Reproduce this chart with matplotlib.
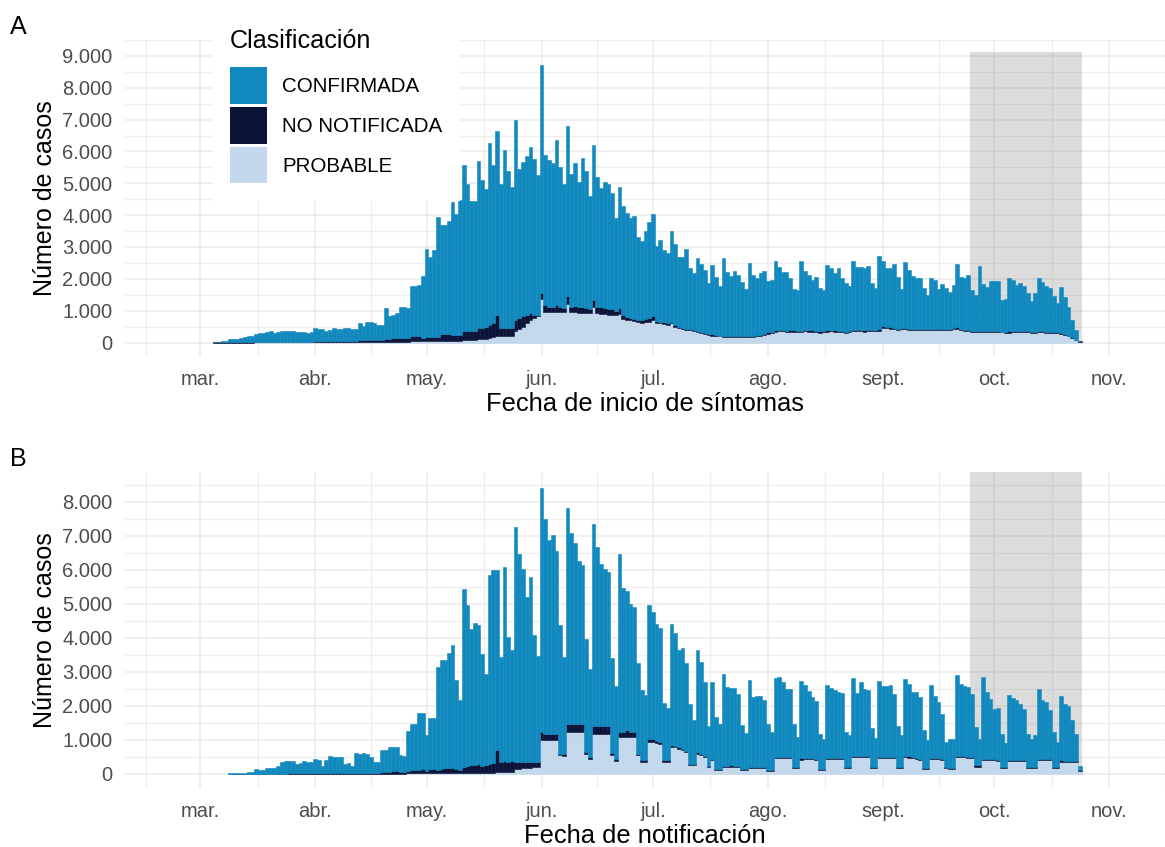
import numpy as np
import pandas as pd
import matplotlib
matplotlib.use("Agg")
import matplotlib.pyplot as plt
from matplotlib.patches import Patch

plt.rcParams['font.family'] = ['Liberation Sans', 'DejaVu Sans']

# colores de la clasificacion
C_CONF = '#1189BE'
C_NONOT = '#0B1438'
C_PROB = '#C3D8EC'
classes = ['CONFIRMADA', 'NO NOTIFICADA', 'PROBABLE']

# ultimos 30 dias (sombreado)
shade = ['2020-09-24 12:00', '2020-10-24 12:00']

months = ['2020-02-01', '2020-03-01', '2020-04-01', '2020-05-01', '2020-06-01',
          '2020-07-01', '2020-08-01', '2020-09-01', '2020-10-01', '2020-11-01',
          '2020-12-01']
month_labels = ['mar.', 'abr.', 'may.', 'jun.', 'jul.', 'ago.', 'sept.', 'oct.', 'nov.']

# ---- Panel A: fecha de inicio de sintomas (desde 5 mar.) ----
a_start = '2020-03-05'
a_total = [
    30, 30, 40, 50, 100, 100, 120,
    150, 180, 200, 220, 280, 300, 300,
    320, 360, 310, 320, 360, 360, 360,
    350, 330, 330, 320, 310, 320, 460,
    420, 410, 370, 380, 460, 440, 440,
    470, 460, 410, 420, 610, 520, 660,
    640, 600, 560, 550, 1070, 820, 850,
    920, 1120, 1120, 1070, 1790, 1790, 1800,
    2080, 2930, 2700, 2900, 3930, 3680, 3680,
    3830, 4410, 4050, 4460, 5590, 4980, 4430,
    4430, 5710, 5100, 4830, 6280, 5560, 6650,
    4980, 6040, 5400, 4880, 6980, 5440, 5680,
    5860, 6130, 5760, 5260, 8700, 5900, 5740,
    5630, 6370, 5500, 4970, 6800, 5300, 5630,
    5050, 5780, 5380, 4590, 6190, 5200, 4840,
    5050, 4980, 4700, 3900, 4880, 4300, 4080,
    3900, 3980, 3320, 3200, 3500, 3790, 4040,
    3030, 3230, 2900, 2800, 3500, 3080, 2680,
    2680, 2950, 2330, 2180, 2660, 2460, 2280,
    1870, 2430, 2070, 1790, 2660, 2200, 2100,
    2260, 2120, 1890, 1670, 2500, 2120, 2020,
    2180, 2260, 1940, 1950, 2560, 2360, 2230,
    2230, 2020, 1670, 1650, 2560, 2250, 2120,
    1950, 2070, 1720, 1640, 2450, 2330, 2180,
    2330, 2020, 1870, 1770, 2560, 2380, 2380,
    2330, 2400, 1870, 1720, 2710, 2560, 2350,
    2350, 2480, 2070, 1690, 2530, 2280, 2100,
    2020, 2020, 1700, 1490, 2040, 1950, 1670,
    1850, 1700, 1600, 1820, 2480, 2050, 2020,
    2120, 1650, 1490, 2400, 1850, 1750, 1920,
    1920, 1920, 1350, 1370, 2020, 1950, 1820,
    1870, 1770, 1570, 1290, 1570, 2020, 1890,
    1790, 1700, 1450, 1240, 1750, 1420, 1120,
    720, 380, 60]
a_nonot = [
    10, 10, 10, 10, 10, 10, 10,
    10, 10, 10, 10, 10, 10, 10,
    10, 10, 10, 10, 10, 10, 10,
    10, 10, 10, 10, 10, 10, 20,
    20, 20, 20, 20, 20, 20, 20,
    30, 30, 40, 40, 60, 60, 60,
    60, 60, 60, 60, 90, 90, 100,
    100, 110, 120, 120, 150, 150, 150,
    110, 120, 120, 120, 130, 210, 210,
    210, 170, 170, 170, 280, 280, 280,
    270, 360, 350, 380, 410, 440, 670,
    260, 260, 250, 240, 360, 360, 320,
    270, 200, 100, 50, 200, 200, 150,
    150, 200, 130, 100, 250, 170, 200,
    170, 190, 160, 130, 230, 180, 200,
    170, 170, 170, 140, 170, 100, 80,
    80, 70, 60, 90, 100, 120, 120,
    80, 60, 60, 60, 60, 50, 40,
    50, 40, 40, 40, 40, 40, 40,
    40, 50, 40, 30, 40, 50, 40,
    40, 50, 40, 40, 30, 40, 50,
    40, 40, 50, 40, 40, 30, 40,
    40, 50, 40, 40, 30, 40, 40,
    50, 40, 40, 30, 40, 40, 50,
    40, 40, 30, 40, 50, 40, 40,
    40, 40, 30, 40, 50, 50, 40,
    40, 40, 30, 40, 50, 40, 40,
    40, 40, 30, 30, 40, 40, 40,
    30, 30, 30, 40, 40, 30, 30,
    30, 30, 30, 40, 30, 30, 30,
    30, 30, 20, 30, 40, 30, 30,
    30, 30, 30, 20, 30, 40, 30,
    30, 30, 30, 20, 20, 20, 20,
    20, 10, 10]
a_prob = [
    0, 0, 0, 0, 0, 0, 0,
    0, 0, 0, 0, 5, 5, 5,
    5, 5, 5, 10, 10, 10, 10,
    10, 10, 10, 10, 10, 10, 15,
    15, 15, 15, 15, 15, 15, 15,
    20, 20, 20, 20, 20, 20, 20,
    20, 20, 20, 20, 30, 30, 30,
    30, 30, 30, 30, 40, 40, 40,
    40, 40, 40, 40, 40, 50, 50,
    50, 60, 60, 60, 80, 80, 80,
    90, 100, 110, 120, 140, 160, 200,
    200, 200, 210, 220, 360, 410, 500,
    600, 720, 770, 820, 1370, 970, 970,
    970, 970, 970, 970, 1220, 950, 950,
    930, 930, 920, 920, 1120, 920, 900,
    900, 880, 880, 860, 900, 750, 720,
    700, 680, 660, 620, 650, 660, 700,
    600, 600, 580, 560, 600, 500, 460,
    420, 400, 380, 360, 330, 300, 270,
    240, 220, 210, 190, 170, 160, 160,
    160, 170, 170, 160, 170, 180, 190,
    210, 240, 270, 300, 340, 360, 350,
    330, 330, 340, 320, 330, 350, 340,
    330, 320, 310, 320, 340, 350, 340,
    330, 320, 310, 330, 350, 360, 350,
    340, 350, 360, 360, 360, 460, 450,
    440, 420, 400, 410, 420, 400, 390,
    390, 400, 400, 390, 390, 400, 400,
    390, 390, 400, 410, 440, 400, 370,
    350, 340, 330, 330, 320, 320, 330,
    330, 320, 320, 310, 310, 320, 330,
    330, 320, 320, 310, 310, 320, 320,
    310, 310, 300, 300, 280, 250, 200,
    150, 80, 30]

# ---- Panel B: fecha de notificacion (desde 9 mar.) ----
b_start = '2020-03-09'
b_total = [
    20, 20, 30, 30, 40, 70, 70,
    150, 120, 120, 190, 170, 170, 230,
    340, 380, 380, 390, 290, 330, 370,
    360, 360, 430, 420, 240, 410, 540,
    510, 510, 490, 290, 330, 230, 620,
    590, 620, 600, 510, 360, 360, 720,
    720, 780, 800, 800, 560, 530, 1260,
    1460, 1460, 1780, 1800, 1140, 1650, 1650,
    3140, 3360, 3360, 3550, 3780, 2770, 2170,
    5440, 4970, 4270, 4430, 4370, 3540, 2930,
    5850, 6000, 6000, 3440, 6100, 4020, 3660,
    7250, 6460, 6040, 5210, 5800, 4100, 3470,
    8420, 7510, 6870, 7020, 6560, 4380, 3440,
    7810, 7100, 6780, 6270, 6140, 3970, 3100,
    7340, 6690, 6170, 6040, 5930, 3420, 2580,
    6460, 5470, 5370, 5000, 4900, 3260, 2480,
    2310, 4980, 4760, 4400, 4300, 2100, 1950,
    4400, 4140, 3650, 3700, 3260, 2070, 1580,
    3660, 3290, 2700, 1420, 2700, 1690, 1460,
    2950, 2560, 2540, 2540, 2340, 1440, 1210,
    2750, 2270, 2290, 2290, 2170, 1460, 1240,
    2830, 2850, 2700, 2510, 2510, 1460, 1090,
    2730, 2610, 2440, 2270, 2150, 1170, 1030,
    2610, 2540, 2460, 2410, 2390, 1240, 1140,
    2830, 2390, 2700, 2510, 2480, 1340, 1060,
    2730, 2580, 2580, 2610, 2360, 1420, 1140,
    2800, 2640, 2410, 2410, 2270, 1290, 1000,
    2610, 2290, 2120, 1760, 950, 1020, 1040,
    2900, 2640, 2580, 2560, 2360, 1390, 1040,
    2850, 2410, 2220, 1920, 1950, 1190, 900,
    2310, 2240, 2190, 2050, 1920, 1190, 1020,
    1140, 2490, 2190, 2120, 1890, 1240, 950,
    2290, 2070, 1990, 1600, 1170, 240]
b_nonot = [
    0, 0, 5, 5, 5, 5, 5,
    5, 5, 5, 5, 5, 5, 5,
    10, 10, 10, 10, 10, 10, 10,
    10, 10, 10, 10, 10, 10, 10,
    10, 10, 10, 10, 10, 10, 20,
    20, 20, 20, 20, 20, 20, 40,
    60, 60, 70, 70, 50, 50, 80,
    100, 100, 110, 120, 70, 120, 120,
    100, 130, 150, 150, 170, 120, 100,
    170, 200, 230, 220, 250, 200, 230,
    260, 290, 670, 300, 310, 300, 310,
    200, 190, 180, 170, 170, 160, 160,
    240, 190, 190, 190, 190, 50, 80,
    220, 220, 220, 220, 220, 50, 50,
    220, 220, 220, 220, 220, 50, 40,
    150, 150, 200, 150, 150, 50, 40,
    40, 90, 90, 80, 70, 40, 40,
    60, 50, 50, 40, 40, 30, 30,
    40, 40, 40, 30, 40, 30, 30,
    40, 40, 40, 30, 40, 30, 30,
    40, 40, 40, 40, 40, 30, 30,
    40, 40, 40, 40, 30, 30, 30,
    40, 40, 40, 30, 30, 30, 30,
    40, 40, 40, 40, 30, 30, 30,
    40, 40, 40, 30, 30, 30, 30,
    40, 40, 40, 30, 30, 30, 30,
    40, 40, 40, 30, 30, 30, 30,
    40, 40, 30, 30, 30, 30, 30,
    40, 40, 40, 30, 30, 30, 30,
    40, 40, 30, 30, 30, 30, 30,
    40, 40, 30, 30, 30, 30, 30,
    30, 40, 30, 30, 30, 30, 30,
    40, 30, 30, 30, 30, 10]
b_prob = [
    0, 0, 0, 0, 0, 0, 0,
    0, 0, 0, 0, 0, 0, 0,
    0, 0, 5, 5, 5, 5, 5,
    5, 5, 5, 5, 5, 5, 5,
    5, 5, 5, 5, 5, 5, 10,
    10, 10, 10, 10, 10, 10, 10,
    10, 10, 10, 10, 10, 10, 20,
    20, 20, 20, 20, 20, 20, 20,
    20, 20, 20, 20, 20, 20, 20,
    30, 30, 30, 30, 30, 30, 40,
    40, 40, 50, 50, 60, 60, 60,
    150, 160, 170, 180, 190, 200, 200,
    1000, 1000, 1000, 1000, 1000, 550, 520,
    1240, 1240, 1240, 1240, 1240, 600, 450,
    1190, 1190, 1190, 1190, 1190, 560, 390,
    1090, 1090, 1090, 1090, 1090, 550, 360,
    360, 950, 950, 900, 880, 360, 360,
    800, 780, 740, 700, 650, 260, 260,
    600, 550, 500, 210, 400, 120, 120,
    200, 200, 210, 200, 200, 120, 120,
    170, 170, 170, 170, 170, 100, 100,
    460, 460, 460, 460, 460, 170, 170,
    420, 440, 440, 440, 420, 120, 120,
    440, 440, 440, 440, 440, 170, 170,
    500, 500, 500, 500, 500, 170, 170,
    460, 460, 460, 460, 460, 170, 170,
    500, 480, 460, 450, 410, 140, 140,
    440, 440, 440, 420, 170, 140, 140,
    500, 500, 500, 480, 480, 220, 220,
    400, 400, 400, 400, 380, 170, 170,
    380, 380, 380, 380, 370, 170, 170,
    170, 410, 410, 410, 400, 170, 170,
    360, 360, 360, 350, 340, 100]

W, H = 1165, 847
fig = plt.figure(figsize=(W / 100, H / 100), dpi=100)

month_dates = pd.to_datetime(months)
minor_ticks = [month_dates[i] + (month_dates[i + 1] - month_dates[i]) / 2
               for i in range(len(month_dates) - 1)]
x0 = pd.Timestamp('2020-03-01')
xlim = (x0 - pd.Timedelta(days=20.26), x0 + pd.Timedelta(days=250.9))


def panel(rect, start, total, nonot, prob, ylim, ymax_tick, xlabel):
    ax = fig.add_axes(rect)
    dates = pd.date_range(start, periods=len(total), freq='D')
    total = np.array(total)
    nonot = np.array(nonot)
    prob = np.array(prob)
    conf = total - nonot - prob

    ax.fill_between(pd.to_datetime(shade), 0, ylim[1], color='#8C8C8C',
                    alpha=0.3, lw=0, zorder=1)
    kw = dict(width=1.0, linewidth=0.4, zorder=2)
    ax.bar(dates, prob, color=C_PROB, edgecolor=C_PROB, **kw)
    ax.bar(dates, nonot, bottom=prob, color=C_NONOT, edgecolor=C_NONOT, **kw)
    ax.bar(dates, conf, bottom=prob + nonot, color=C_CONF, edgecolor=C_CONF, **kw)

    ax.set_xlim(xlim)
    ax.set_ylim(ylim)
    ax.set_xticks(month_dates[1:-1], labels=month_labels)
    ax.set_xticks(minor_ticks, minor=True)
    yt = np.arange(0, ymax_tick + 1, 1000)
    ax.set_yticks(yt, labels=[f'{v:,}'.replace(',', '.') for v in yt])
    ax.set_yticks(np.arange(500, ymax_tick + 501, 1000), minor=True)
    ax.set_axisbelow(True)
    ax.grid(which='major', color='#EBEBEB', lw=1.1, zorder=0)
    ax.grid(which='minor', color='#EEEEEE', lw=0.9, zorder=0)
    for s in ax.spines.values():
        s.set_visible(False)
    ax.tick_params(which='both', length=0, labelsize=14.5, labelcolor='#4D4D4D')
    ax.tick_params(axis='y', pad=9)
    ax.tick_params(axis='x', pad=10)

    ax.set_ylabel('Número de casos', fontsize=18)
    ax.yaxis.set_label_coords(-68 / 1040, 0.5)
    ax.set_xlabel(xlabel, fontsize=18.4)
    ax.xaxis.set_label_coords(0.5, -36 / 316)
    return ax


ax_a = panel([125 / W, 1 - 356 / H, 1040 / W, 316 / H], a_start, a_total, a_nonot,
             a_prob, (-423, 9124), 9000, 'Fecha de inicio de síntomas')
ax_b = panel([125 / W, 1 - 788 / H, 1040 / W, 316 / H], b_start, b_total, b_nonot,
             b_prob, (-412, 8882), 8000, 'Fecha de notificación')

fig.text(10 / W, 1 - 15 / H, 'A', fontsize=18, ha='left', va='top')
fig.text(10 / W, 1 - 447 / H, 'B', fontsize=18, ha='left', va='top')

handles = [Patch(facecolor=c, edgecolor='none') for c in (C_CONF, C_NONOT, C_PROB)]
leg = ax_a.legend(handles, classes, title='Clasificación', loc='upper left',
                  bbox_to_anchor=(213 / W, 1 - 11.5 / H), bbox_transform=fig.transFigure,
                  borderaxespad=0, frameon=True, facecolor='white', edgecolor='white',
                  framealpha=1, fancybox=False, fontsize=14.8, title_fontsize=18.1,
                  handlelength=1.8, handleheight=2.35, labelspacing=0.17,
                  handletextpad=0.73, borderpad=0.83, alignment='left')
leg._legend_box.sep = 10.5  # espacio entre titulo y claves
leg.set_zorder(5)

fig.savefig('out.png', dpi=100)
